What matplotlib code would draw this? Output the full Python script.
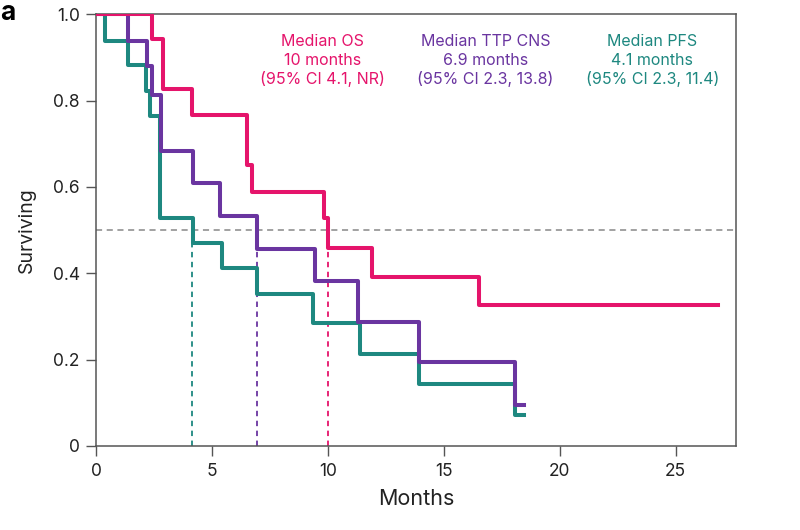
import matplotlib.pyplot as plt

plt.rcParams['font.family'] = ['Inter', 'DejaVu Sans']

# Kaplan-Meier steps (months, surviving fraction)
os_t = [0, 2.42, 2.89, 4.12, 6.50, 6.71, 9.84, 9.98, 11.90, 16.50, 26.82]
os_s = [1.0, 0.942, 0.826, 0.766, 0.652, 0.588, 0.529, 0.459, 0.391, 0.327, 0.327]

ttp_t = [0, 1.38, 2.18, 2.42, 2.78, 4.16, 5.34, 6.95, 9.42, 11.29, 13.91, 18.06, 18.48]
ttp_s = [1.0, 0.938, 0.880, 0.814, 0.683, 0.610, 0.532, 0.456, 0.382, 0.288, 0.194, 0.095, 0.095]

pfs_t = [0, 0.38, 1.36, 2.13, 2.32, 2.75, 4.17, 5.42, 6.95, 9.37, 11.36, 13.91, 18.06, 18.48]
pfs_s = [1.0, 0.938, 0.882, 0.822, 0.765, 0.529, 0.471, 0.412, 0.353, 0.285, 0.214, 0.143, 0.071, 0.071]

medians = [9.98, 6.95, 4.15]
labels = [["Median OS", "10 months", "(95% CI 4.1, NR)"],
          ["Median TTP CNS", "6.9 months", "(95% CI 2.3, 13.8)"],
          ["Median PFS", "4.1 months", "(95% CI 2.3, 11.4)"]]
label_x = [9.75, 16.8, 24.0]

pink = '#E5146B'
purple = '#6A35A0'
teal = '#1E8880'
cols = [pink, purple, teal]

fig = plt.figure(figsize=(8, 5.3), dpi=100)
ax = fig.add_axes([0.1204, 0.1585, 0.7993, 0.8145])

ax.axhline(0.5, color='#888888', lw=1.1, ls=(0, (4, 3)), zorder=1)
for m, c in zip(medians, cols):
    ax.plot([m, m], [0, 0.5], color=c, lw=1.3, ls=(0, (3, 2.5)), zorder=1)

ax.step(pfs_t, pfs_s, where='post', color=teal, lw=2.9, zorder=3)
ax.step(ttp_t, ttp_s, where='post', color=purple, lw=2.9, zorder=4)
ax.step(os_t, os_s, where='post', color=pink, lw=2.9, zorder=5)

for x, lab, c in zip(label_x, labels, cols):
    for i, line in enumerate(lab):
        ax.text(x, 0.937 - i * 0.043, line, color=c, fontsize=11.5,
                ha='center', va='center')

ax.set_xlim(0, 27.6)
ax.set_ylim(0, 1.0)
ax.set_xticks([0, 5, 10, 15, 20, 25])
ax.set_yticks([0, 0.2, 0.4, 0.6, 0.8, 1.0])
ax.set_yticklabels(['0', '0.2', '0.4', '0.6', '0.8', '1.0'])
ax.tick_params(direction='out', length=7, width=1, color='#555555',
               labelcolor='#222222', labelsize=12.5, pad=5)
for s in ax.spines.values():
    s.set_color('#555555')
    s.set_linewidth(1.1)
ax.set_xlabel('Months', fontsize=15.5, color='#222222', labelpad=7)
ax.set_ylabel('Surviving', fontsize=14, color='#222222', labelpad=12)

fig.text(0.0, 1.0, 'a', fontsize=19, fontweight='bold', va='top', ha='left')

fig.savefig('out.png', dpi=100)
